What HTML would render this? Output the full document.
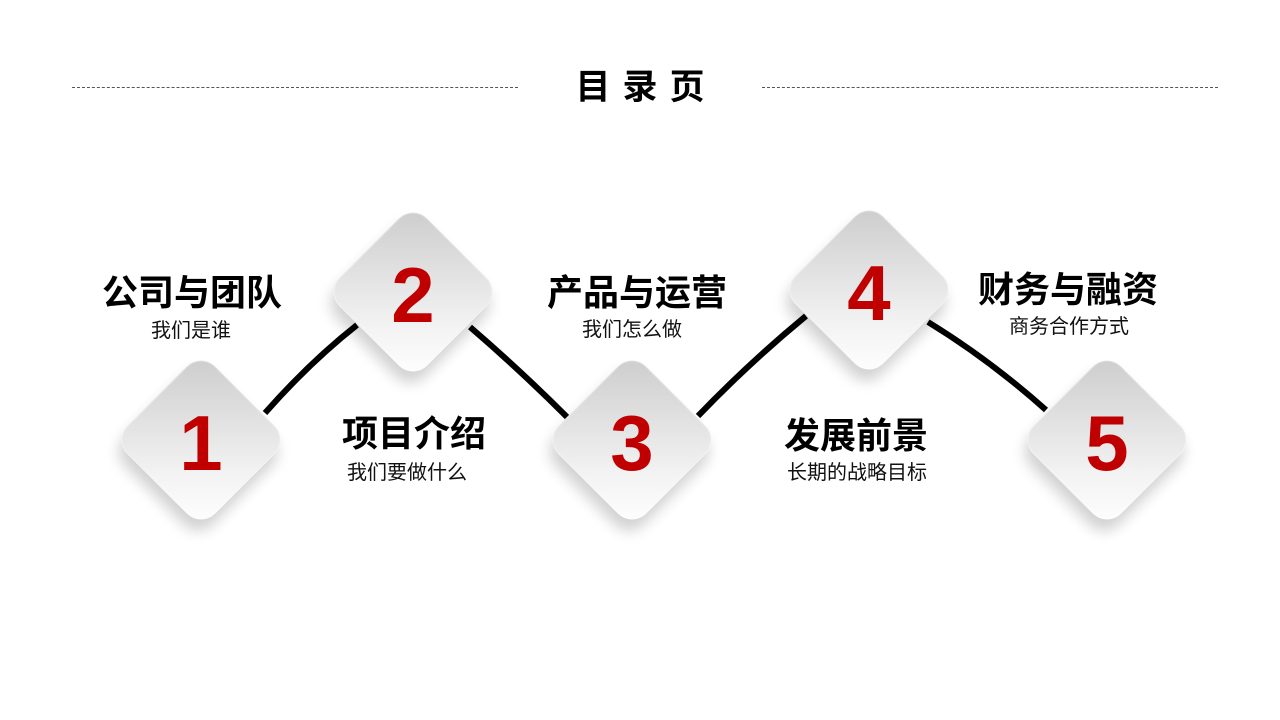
<!DOCTYPE html>
<html><head><meta charset="utf-8"><style>
body{margin:0;width:1280px;height:720px;background:#fff;position:relative;overflow:hidden;font-family:"Liberation Sans","Noto Sans CJK SC",sans-serif}
.d{position:absolute;width:124px;height:124px;border-radius:20px;transform:rotate(45deg);background:linear-gradient(135deg,#cbcbcb,#f3f3f3 70%,#fff);box-shadow:6px 10px 14px rgba(0,0,0,.18),inset 0 0 2px #fff;}
.n{position:absolute;width:160px;text-align:center;color:#c00000;font-weight:bold;font-size:78px;line-height:80px}
.h{position:absolute;font-weight:bold;font-size:36px;color:#000;text-align:center;width:260px;line-height:42px}
.s{position:absolute;font-size:20px;color:#111;text-align:center;width:240px;line-height:24px}
.dash{position:absolute;top:87px;border-top:1px dashed #555;height:0}
</style></head><body>
<div class="dash" style="left:72px;width:446px"></div>
<div class="dash" style="left:762px;width:456px"></div>
<div style="position:absolute;left:534px;width:200px;top:66px;text-align:center;font-weight:bold;font-size:35px;letter-spacing:12px;padding-left:12px;line-height:44px">目录页</div>
<svg width="1280" height="720" style="position:absolute;left:0;top:0">
<g fill="none" stroke="#000" stroke-width="6">
<path d="M265 413 Q310 362 357 325"/>
<path d="M470 327 Q520 370 567 417"/>
<path d="M698 416 Q750 362 806 316"/>
<path d="M928 322 Q990 360 1046 410"/>
</g></svg>
<div class="d" style="left:139px;top:378px"></div>
<div class="d" style="left:351px;top:230px"></div>
<div class="d" style="left:570px;top:378px"></div>
<div class="d" style="left:807px;top:228px"></div>
<div class="d" style="left:1045px;top:378px"></div>
<div class="n" style="left:121px;top:403px">1</div>
<div class="n" style="left:333px;top:255px">2</div>
<div class="n" style="left:552px;top:403px">3</div>
<div class="n" style="left:789px;top:253px">4</div>
<div class="n" style="left:1027px;top:403px">5</div>
<div class="h" style="left:62px;top:272px">公司与团队</div>
<div class="s" style="left:71px;top:319px">我们是谁</div>
<div class="h" style="left:284px;top:413px">项目介绍</div>
<div class="s" style="left:287px;top:461px">我们要做什么</div>
<div class="h" style="left:507px;top:272px">产品与运营</div>
<div class="s" style="left:512px;top:318px">我们怎么做</div>
<div class="h" style="left:726px;top:415px">发展前景</div>
<div class="s" style="left:737px;top:461px">长期的战略目标</div>
<div class="h" style="left:938px;top:269px">财务与融资</div>
<div class="s" style="left:949px;top:315px">商务合作方式</div>
</body></html>
